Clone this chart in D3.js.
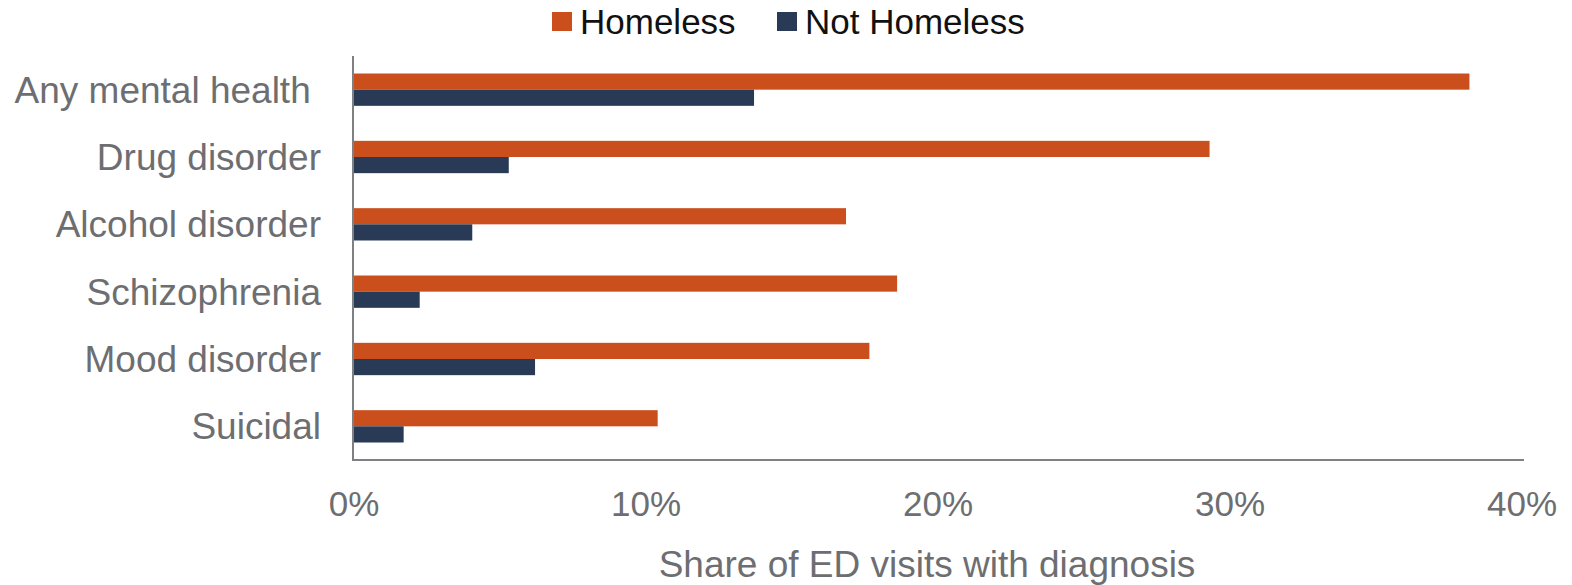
<!DOCTYPE html>
<html>
<head>
<meta charset="utf-8">
<script src="https://cdn.jsdelivr.net/npm/d3@7"></script>
<style>
  body { margin: 0; background: #fff; }
  text { font-family: 'Liberation Sans', Arial, sans-serif; }
</style>
</head>
<body>
<div id="chart"></div>
<script>
'use strict';

// data
var categories = ['Any mental health\u00a0', 'Drug disorder', 'Alcohol disorder', 'Schizophrenia', 'Mood disorder', 'Suicidal'];
var seriesNames = ['Homeless', 'Not Homeless'];
var homeless = [38.2, 29.3, 16.85, 18.6, 17.65, 10.4];
var notHomeless = [13.7, 5.3, 4.05, 2.25, 6.2, 1.7];
var ticks = [0, 10, 20, 30, 40];
var colors = ['#CA4F1D', '#283A56'];

//constants
var width = 1572,
  height = 585,
  margin = {top: 56, right: 50, bottom: 125, left: 354};

var svg = d3.select('#chart')
    .append('svg')
    .attr('width', width)
    .attr('height', height);

var x = d3.scaleLinear()
    .domain([0, 40])
    .range([margin.left, width - margin.right]);

var y = d3.scaleBand()
    .domain(categories)
    .range([margin.top, height - margin.bottom])
    .paddingInner(0.52)
    .paddingOuter(0.26);

var sub = d3.scaleBand()
    .domain(seriesNames)
    .range([0, y.bandwidth()]);

var series = [homeless, notHomeless];

// bars
series.forEach(function (vals, si) {
  svg.append('g')
    .selectAll('rect')
    .data(vals)
    .enter()
    .append('rect')
      .attr('x', x(0))
      .attr('y', function (d, i) { return y(categories[i]) + sub(seriesNames[si]); })
      .attr('width', function (d) { return x(d) - x(0); })
      .attr('height', sub.bandwidth())
      .attr('fill', colors[si]);
});

// axis lines
svg.append('line')
    .attr('x1', x(0) - 1).attr('x2', x(0) - 1)
    .attr('y1', margin.top).attr('y2', height - margin.bottom + 1)
    .attr('stroke', '#7f8083')
    .attr('stroke-width', 2);

svg.append('line')
    .attr('x1', x(0) - 2).attr('x2', x(40) + 2)
    .attr('y1', height - margin.bottom).attr('y2', height - margin.bottom)
    .attr('stroke', '#7f8083')
    .attr('stroke-width', 2);

// category labels
svg.append('g')
  .selectAll('text')
  .data(categories)
  .enter()
  .append('text')
    .attr('x', 321)
    .attr('y', function (d) { return y(d) + y.bandwidth() / 2; })
    .attr('dy', '0.35em')
    .attr('text-anchor', 'end')
    .attr('font-size', '37px')
    .attr('fill', '#6d6e71')
    .text(function (d) { return d; });

// tick labels
svg.append('g')
  .selectAll('text')
  .data(ticks)
  .enter()
  .append('text')
    .attr('x', function (d) { return x(d); })
    .attr('y', 516)
    .attr('text-anchor', 'middle')
    .attr('font-size', '35px')
    .attr('fill', '#6d6e71')
    .text(function (d) { return d + '%'; });

// axis title
svg.append('text')
    .attr('x', 927)
    .attr('y', 577)
    .attr('text-anchor', 'middle')
    .attr('font-size', '37px')
    .attr('fill', '#6d6e71')
    .text('Share of ED visits with diagnosis');

// legend
var legendX = [552, 777];
var legend = svg.append('g')
  .selectAll('g')
  .data(seriesNames)
  .enter()
  .append('g')
    .attr('transform', function (d, i) { return 'translate(' + legendX[i] + ',0)'; });

legend.append('rect')
    .attr('x', 0).attr('y', 12)
    .attr('width', 20).attr('height', 19)
    .attr('fill', function (d, i) { return colors[i]; });

legend.append('text')
    .attr('x', 28)
    .attr('y', 34)
    .attr('font-size', '35px')
    .attr('fill', '#111')
    .text(function (d) { return d; });
</script>
</body>
</html>
